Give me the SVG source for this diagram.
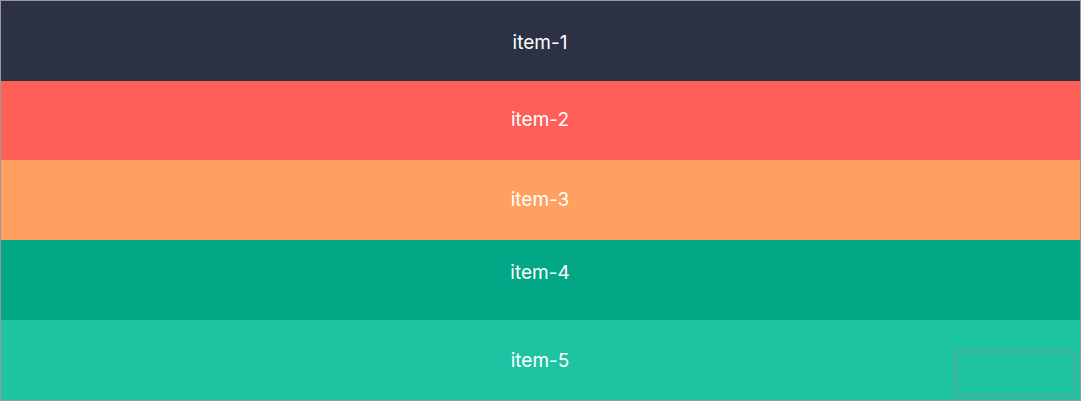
<svg xmlns="http://www.w3.org/2000/svg" width="1081" height="401" viewBox="0 0 1081 401">
<style>
.lbl{font-family:"Inter","Liberation Sans",sans-serif;font-size:19px;fill:#ffffff;text-anchor:middle;dominant-baseline:central}
</style>
<defs>
<filter id="blur" x="-10%" y="-20%" width="120%" height="140%"><feGaussianBlur stdDeviation="0.8"/></filter>
</defs>
<rect x="0" y="0" width="1081" height="401" fill="#9a9a9a"/>
<g id="item-1"><rect x="1" y="1" width="1079" height="80" fill="#2c3145"/><text class="lbl" x="540" y="42">item-1</text></g>
<g id="item-2"><rect x="1" y="81" width="1079" height="79" fill="#ff5f57"/><text class="lbl" x="540" y="119">item-2</text></g>
<g id="item-3"><rect x="1" y="160" width="1079" height="80" fill="#ffa061"/><text class="lbl" x="540" y="199">item-3</text></g>
<g id="item-4"><rect x="1" y="240" width="1079" height="80" fill="#03a685"/><text class="lbl" x="540" y="272">item-4</text></g>
<g id="item-5"><rect x="1" y="320" width="1079" height="80" fill="#1ec3a1"/><text class="lbl" x="540" y="360">item-5</text></g>
<g id="box"><rect x="955.5" y="351.5" width="118" height="44" fill="none" stroke="#6a9e90" stroke-opacity="0.7" stroke-width="2" filter="url(#blur)"/></g>
</svg>
